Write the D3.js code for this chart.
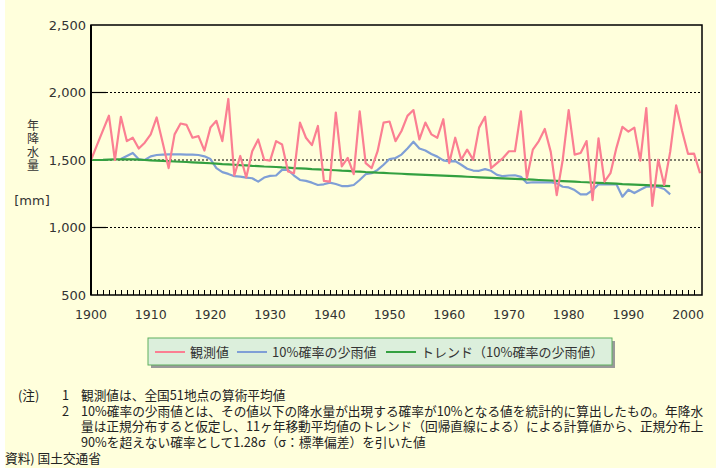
<!DOCTYPE html>
<html>
<head>
<meta charset="utf-8">
<script src="https://cdn.jsdelivr.net/npm/d3@7"></script>
<style>
body { margin: 0; background: #fff; }
svg { display: block; }
</style>
</head>
<body>
<svg id="drawing_region"></svg>
<script>
// 観測値 1900-2002
const observedStart = 1900;
const observed = [
    1500, 1610, 1720, 1828, 1500, 1820, 1640, 1665, 1585, 1628,
    1690, 1815, 1630, 1440, 1690, 1770, 1760, 1665, 1677, 1570,
    1740, 1790, 1640, 1952, 1385, 1530, 1370, 1565, 1652, 1502,
    1495, 1640, 1615, 1415, 1402, 1777, 1665, 1610, 1752, 1345,
    1340, 1852, 1452, 1515, 1395, 1860, 1477, 1440, 1565, 1777,
    1785, 1640, 1715, 1827, 1870, 1652, 1777, 1690, 1665, 1802,
    1477, 1665, 1502, 1577, 1502, 1740, 1820, 1440, 1477, 1515,
    1565, 1565, 1860, 1365, 1577, 1640, 1730, 1560, 1240, 1500,
    1870, 1540, 1552, 1640, 1202, 1660, 1340, 1402, 1590, 1745,
    1710, 1740, 1495, 1885, 1160, 1502, 1315, 1560, 1905, 1715,
    1545, 1547, 1402
];

// 10%確率の少雨値 1905-1997
const lowRainStart = 1905;
const lowRain = [
    1507, 1530, 1552, 1505, 1500,
    1527, 1537, 1540, 1542, 1542, 1542, 1540, 1540, 1537, 1527,
    1507, 1440, 1410, 1397, 1380, 1377, 1370, 1365, 1340, 1370,
    1382, 1385, 1427, 1427, 1385, 1352, 1345, 1332, 1315, 1320,
    1332, 1322, 1307, 1307, 1315, 1352, 1395, 1402, 1427, 1465,
    1507, 1515, 1540, 1585, 1635, 1585, 1570, 1545, 1525, 1497,
    1490, 1492, 1465, 1435, 1422, 1420, 1432, 1420, 1390, 1380,
    1385, 1387, 1375, 1330, 1335, 1335, 1335, 1335, 1327, 1302,
    1297, 1277, 1245, 1245, 1277, 1320, 1320, 1322, 1320, 1228,
    1280, 1255, 1280, 1302, 1305, 1300, 1285, 1245
];

// トレンド 1900-1997
const trendStart = 1900;
const trend = [
    1500, 1500, 1501, 1503, 1505, 1505, 1505, 1505, 1503, 1500,
    1497, 1495, 1493, 1491, 1489, 1487, 1485, 1483, 1481, 1478,
    1476, 1473, 1470, 1468, 1465, 1462, 1460, 1457, 1455, 1452,
    1450, 1448, 1445, 1443, 1440, 1438, 1436, 1433, 1431, 1428,
    1426, 1424, 1421, 1419, 1416, 1414, 1411, 1409, 1406, 1404,
    1402, 1400, 1398, 1396, 1394, 1392, 1390, 1388, 1386, 1384,
    1382, 1380, 1378, 1376, 1374, 1372, 1370, 1368, 1366, 1364,
    1362, 1360, 1358, 1356, 1354, 1352, 1350, 1348, 1346, 1344,
    1342, 1340, 1337, 1335, 1333, 1331, 1329, 1327, 1325, 1322,
    1320, 1318, 1316, 1314, 1312, 1310, 1308, 1306
];

const yTicks = [500, 1000, 1500, 2000, 2500];
const xTickLabels = [1900, 1910, 1920, 1930, 1940, 1950, 1960, 1970, 1980, 1990, 2000];
const yTitle = '年降水量';
const yUnit = '[mm]';
const legendLabels = ['観測値', '10%確率の少雨値', 'トレンド（10%確率の少雨値）'];
const noteRows = [
    ['(注)', '1', '観測値は、全国51地点の算術平均値'],
    ['', '2', '10%確率の少雨値とは、その値以下の降水量が出現する確率が10%となる値を統計的に算出したもの。年降水'],
    ['', '', '量は正規分布すると仮定し、11ヶ年移動平均値のトレンド（回帰直線による）による計算値から、正規分布上'],
    ['', '', '90%を超えない確率として1.28σ（σ：標準偏差）を引いた値']
];
const source = '資料) 国土交通省';

const toSeries = (start, values) => values.map((v, i) => ({ year: start + i, value: v }));

class LineChart {
    constructor(config) {
        this.config = {
            parent: config.parent,
            width: config.width || 716,
            height: config.height || 468,
            margin: config.margin || { top: 25, right: 14, bottom: 173, left: 91 }
        };
        this.series = [
            { name: legendLabels[1], color: '#7f9fd6', data: toSeries(lowRainStart, lowRain) },
            { name: legendLabels[2], color: '#33a040', data: toSeries(trendStart, trend) },
            { name: legendLabels[0], color: '#fb7f92', data: toSeries(observedStart, observed) }
        ];
        this.init();
    }

    init() {
        let self = this;
        self.svg = d3.select(self.config.parent)
            .attr('width', self.config.width)
            .attr('height', self.config.height)
            .style('font-family', '"Noto Sans CJK JP", sans-serif');

        self.svg.append('rect')
            .attr('width', self.config.width).attr('height', self.config.height)
            .attr('fill', '#ffffdc');
        self.svg.append('rect')
            .attr('width', 5).attr('height', self.config.height)
            .attr('fill', '#fff');

        self.chart = self.svg.append('g')
            .attr('transform', `translate(${self.config.margin.left}, ${self.config.margin.top})`);

        self.inner_width = self.config.width - self.config.margin.left - self.config.margin.right;
        self.inner_height = self.config.height - self.config.margin.top - self.config.margin.bottom;

        self.xscale = d3.scaleLinear()
            .domain([1900, 2002.33])
            .range([0, self.inner_width]);
        self.yscale = d3.scaleLinear()
            .domain(d3.extent(yTicks))
            .range([self.inner_height, 0]);
    }

    render() {
        let self = this;
        const W = self.inner_width, H = self.inner_height;

        // grid lines (solid stub + dashed)
        const grid = yTicks.filter(d => d > 500 && d < 2500);
        self.chart.selectAll('.grid')
            .data(grid).join('line')
            .attr('x1', 15).attr('x2', W)
            .attr('y1', d => self.yscale(d)).attr('y2', d => self.yscale(d))
            .attr('stroke', '#000').attr('stroke-width', 1)
            .attr('stroke-dasharray', '2,2');
        self.chart.selectAll('.stub')
            .data(grid).join('line')
            .attr('x1', 0).attr('x2', 15)
            .attr('y1', d => self.yscale(d)).attr('y2', d => self.yscale(d))
            .attr('stroke', '#000').attr('stroke-width', 1.2);

        // yearly ticks
        self.chart.append('g')
            .selectAll('line')
            .data(d3.range(1900, 2002))
            .join('line')
            .attr('x1', d => Math.round(self.xscale(d)) + 0.5)
            .attr('x2', d => Math.round(self.xscale(d)) + 0.5)
            .attr('y1', H).attr('y2', H - 5)
            .attr('stroke', '#000').attr('stroke-width', 1);

        // lines
        const line = d3.line()
            .x(d => self.xscale(d.year))
            .y(d => self.yscale(d.value));
        self.chart.selectAll('.series')
            .data(self.series).join('path')
            .attr('fill', 'none')
            .attr('stroke', d => d.color)
            .attr('stroke-width', 2.2)
            .attr('stroke-linejoin', 'round')
            .attr('d', d => line(d.data));

        // frame
        self.chart.append('rect')
            .attr('x', 0).attr('y', 0).attr('width', W).attr('height', H)
            .attr('fill', 'none').attr('stroke', '#000').attr('stroke-width', 1.5);
        self.chart.append('line')
            .attr('x1', 0).attr('x2', 0).attr('y1', 0).attr('y2', H)
            .attr('stroke', '#000').attr('stroke-width', 2);

        // y tick labels
        self.chart.selectAll('.ylab')
            .data(yTicks).join('text')
            .attr('x', -5).attr('y', d => self.yscale(d))
            .attr('dy', '0.35em')
            .attr('text-anchor', 'end')
            .attr('font-size', 13)
            .attr('font-family', '"DejaVu Sans", sans-serif')
            .attr('fill', '#333')
            .text(d3.format(','));

        // x tick labels
        self.chart.selectAll('.xlab')
            .data(xTickLabels).join('text')
            .attr('x', d => self.xscale(d)).attr('y', H + 24)
            .attr('text-anchor', 'middle')
            .attr('font-size', 12.5)
            .attr('font-family', '"DejaVu Sans", sans-serif')
            .attr('fill', '#333')
            .text(d => d);

        // y title (vertical)
        self.svg.append('text')
            .attr('x', 33).attr('y', 119)
            .style('writing-mode', 'vertical-rl')
            .style('letter-spacing', '1.5px')
            .attr('font-size', 12)
            .attr('fill', '#333')
            .text(yTitle);
        self.svg.append('text')
            .attr('x', 32).attr('y', 205)
            .attr('text-anchor', 'middle')
            .attr('font-size', 13)
            .attr('font-family', '"DejaVu Sans", sans-serif')
            .attr('fill', '#333')
            .text(yUnit);

        // legend
        const lg = self.svg.append('g').attr('transform', 'translate(148, 338)');
        lg.append('rect').attr('x', 3).attr('y', 3).attr('width', 464).attr('height', 27).attr('fill', '#9a9a9a');
        lg.append('rect').attr('width', 464).attr('height', 27)
            .attr('fill', '#dcefdc').attr('stroke', '#5fb05f').attr('stroke-width', 1);
        const legendItems = [self.series[2], self.series[0], self.series[1]];
        const lx = [7, 89, 238];
        legendItems.forEach((s, i) => {
            lg.append('line')
                .attr('x1', lx[i]).attr('x2', lx[i] + 30)
                .attr('y1', 14).attr('y2', 14)
                .attr('stroke', s.color).attr('stroke-width', 2);
            lg.append('text')
                .attr('x', lx[i] + 35).attr('y', 14).attr('dy', '0.36em')
                .attr('font-size', 13).attr('fill', '#333')
                .text(s.name);
        });

        // notes: one text block, one tspan per column
        const notes = self.svg.append('text').attr('font-size', 12.7).attr('fill', '#222');
        const colX = [18, 62, 81];
        noteRows.forEach((r, i) => {
            const y = 400 + i * 15.7;
            r.forEach((t, j) => {
                if (t) notes.append('tspan').attr('x', colX[j]).attr('y', y).text(t);
            });
        });
        notes.append('tspan').attr('x', 5).attr('y', 400 + 4 * 15.7).text(source);
    }
}

const chart = new LineChart({ parent: '#drawing_region' });
chart.render();
</script>
</body>
</html>
